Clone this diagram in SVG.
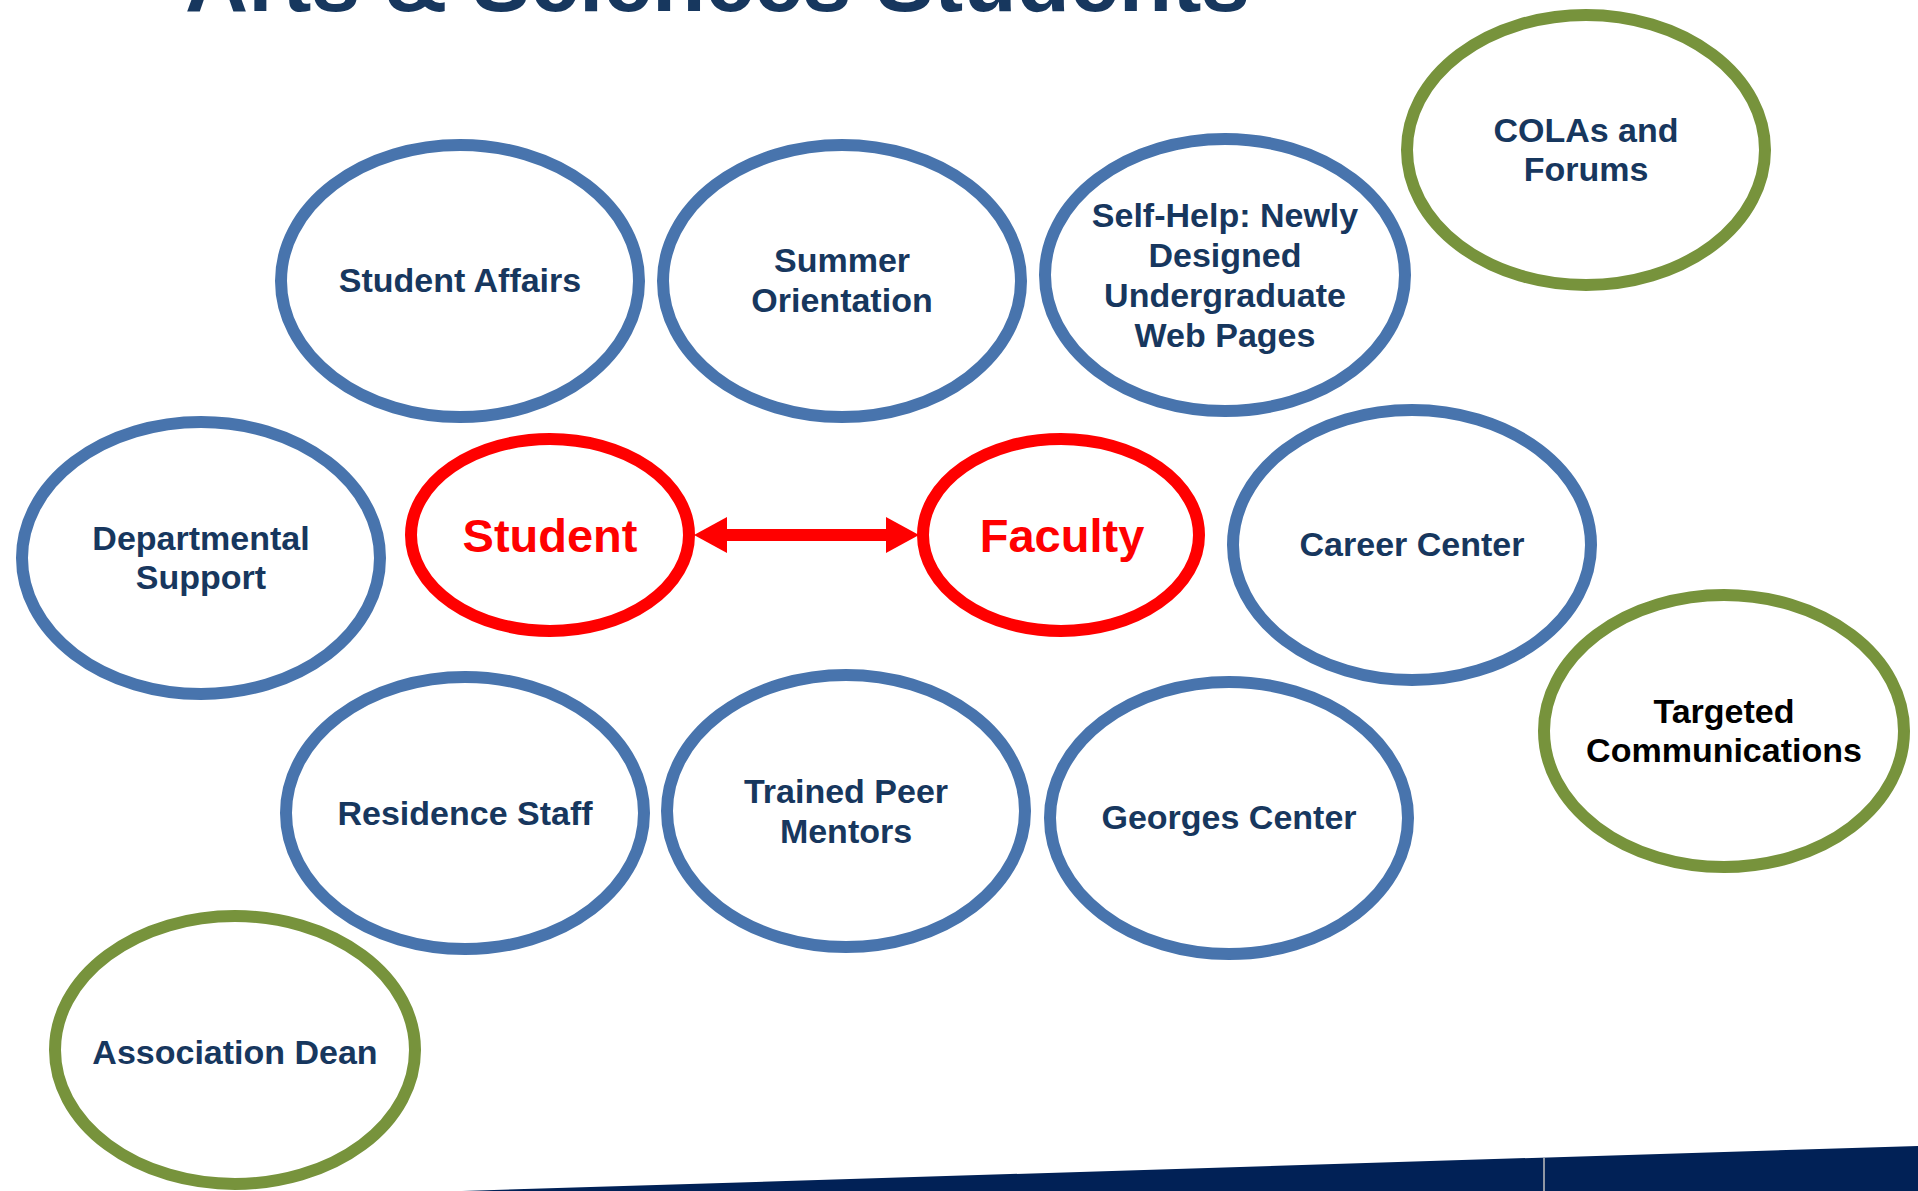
<svg xmlns="http://www.w3.org/2000/svg" width="1918" height="1191" viewBox="0 0 1918 1191">
<style>
.bg{fill:#ffffff}
.blue{fill:#ffffff;stroke:#4874AD;stroke-width:12}
.green{fill:#ffffff;stroke:#77933C;stroke-width:12}
.red{fill:#ffffff;stroke:#FF0000;stroke-width:12}
.lbl{font-family:"Liberation Sans",Arial,sans-serif;font-weight:bold;font-size:34px;fill:#17375E;text-anchor:middle}
.blk{fill:#000000}
.rlbl{font-family:"Liberation Sans",Arial,sans-serif;font-weight:bold;font-size:47px;fill:#FF0000;text-anchor:middle}
.title{font-family:"Liberation Sans",Arial,sans-serif;font-weight:bold;font-size:88px;fill:#17375E}
</style>
<defs>
<marker id="ah" markerUnits="userSpaceOnUse" markerWidth="33" markerHeight="36" viewBox="0 0 33 36" refX="1" refY="18" orient="auto-start-reverse">
<path d="M0,0 L33,18 L0,36 z" fill="#FF0000"/>
</marker>
</defs>
<rect class="bg" x="0" y="0" width="1918" height="1191"/>
<text class="title" x="185" y="11" textLength="1065" lengthAdjust="spacingAndGlyphs">Arts &amp; Sciences Students</text>

<g id="bottom-bar">
<polygon points="462,1191 1918,1146 1918,1191" fill="#012156"/>
<line x1="1544" y1="1158" x2="1544" y2="1191" stroke="#BFBFBF" stroke-width="1.5"/>
</g>

<g id="connectors">
<line x1="726" y1="535" x2="887" y2="535" stroke="#FF0000" stroke-width="12" marker-start="url(#ah)" marker-end="url(#ah)"/>
</g>

<g id="student-affairs">
<ellipse class="blue" cx="460" cy="281" rx="179" ry="136"/>
<text class="lbl" x="460" y="292">Student Affairs</text>
</g>
<g id="summer-orientation">
<ellipse class="blue" cx="842" cy="281" rx="179" ry="136"/>
<text class="lbl" x="842" y="272">Summer</text>
<text class="lbl" x="842" y="312">Orientation</text>
</g>
<g id="self-help">
<ellipse class="blue" cx="1225" cy="275" rx="180" ry="136"/>
<text class="lbl" x="1225" y="227">Self-Help: Newly</text>
<text class="lbl" x="1225" y="267">Designed</text>
<text class="lbl" x="1225" y="307">Undergraduate</text>
<text class="lbl" x="1225" y="347">Web Pages</text>
</g>
<g id="colas-forums">
<ellipse class="green" cx="1586" cy="150" rx="179" ry="135"/>
<text class="lbl" x="1586" y="142">COLAs and</text>
<text class="lbl" x="1586" y="181">Forums</text>
</g>
<g id="departmental-support">
<ellipse class="blue" cx="201" cy="558" rx="179" ry="136"/>
<text class="lbl" x="201" y="550">Departmental</text>
<text class="lbl" x="201" y="589">Support</text>
</g>
<g id="student">
<ellipse class="red" cx="550" cy="535" rx="139" ry="96"/>
<text class="rlbl" x="550" y="552">Student</text>
</g>
<g id="faculty">
<ellipse class="red" cx="1061" cy="535" rx="138" ry="96"/>
<text class="rlbl" x="1062" y="552">Faculty</text>
</g>
<g id="career-center">
<ellipse class="blue" cx="1412" cy="545" rx="179" ry="135"/>
<text class="lbl" x="1412" y="556">Career Center</text>
</g>
<g id="targeted-communications">
<ellipse class="green" cx="1724" cy="731" rx="180" ry="136"/>
<text class="lbl blk" x="1724" y="723">Targeted</text>
<text class="lbl blk" x="1724" y="762">Communications</text>
</g>
<g id="residence-staff">
<ellipse class="blue" cx="465" cy="813" rx="179" ry="136"/>
<text class="lbl" x="465" y="825">Residence Staff</text>
</g>
<g id="trained-peer-mentors">
<ellipse class="blue" cx="846" cy="811" rx="179" ry="136"/>
<text class="lbl" x="846" y="803">Trained Peer</text>
<text class="lbl" x="846" y="843">Mentors</text>
</g>
<g id="georges-center">
<ellipse class="blue" cx="1229" cy="818" rx="179" ry="136"/>
<text class="lbl" x="1229" y="829">Georges Center</text>
</g>
<g id="association-dean">
<ellipse class="green" cx="235" cy="1050" rx="180" ry="134"/>
<text class="lbl" x="235" y="1064">Association Dean</text>
</g>
</svg>
